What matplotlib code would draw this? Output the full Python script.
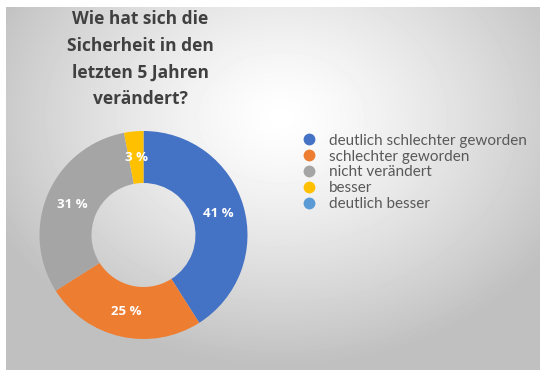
import numpy as np
import matplotlib.pyplot as plt
from matplotlib.lines import Line2D

labels = ["deutlich schlechter geworden", "schlechter geworden",
          "nicht verändert", "besser", "deutlich besser"]
shares = [41, 25, 31, 3, 0]
colors = ["#4472C4", "#ED7D31", "#A5A5A5", "#FFC000", "#5B9BD5"]
title = "Wie hat sich die\nSicherheit in den\nletzten 5 Jahren\nverändert?"

W, H = 548, 378
fig = plt.figure(figsize=(W / 100, H / 100), dpi=100)
fig.patch.set_facecolor("white")

# chart area with a soft radial gradient
bg = fig.add_axes([6 / W, 1 - 370 / H, 534 / W, 363 / H])
yy, xx = np.mgrid[0:363, 0:534]
d = np.sqrt(((xx - 275) / 320.0) ** 2 + ((yy - 110) / 250.0) ** 2)
shade = np.clip(1.0 - 0.25 * d ** 1.3, 0.75, 1.0)
bg.imshow(shade, cmap="gray", vmin=0, vmax=1, aspect="auto")
bg.set_axis_off()

fig.text(140 / W, 1 - 59 / H, title, ha="center", va="center",
         fontsize=12.5, fontweight="bold", color="#404040",
         family="Open Sans", linespacing=1.62)

# donut
cx, cy, r = 143.5, 235, 104
ax = fig.add_axes([(cx - r) / W, 1 - (cy + r) / H, 2 * r / W, 2 * r / H])
ax.pie(shares, colors=colors, startangle=90, counterclock=False,
       radius=1.0, wedgeprops=dict(width=0.5, edgecolor="none"))
ax.set_aspect("equal")
ax.set_xlim(-1, 1)
ax.set_ylim(-1, 1)

start = 90.0
total = sum(shares)
for val in shares:
    ang = start - val / total * 360 / 2
    start -= val / total * 360
    if val == 0:
        continue
    a = np.deg2rad(ang)
    ax.text(0.75 * np.cos(a), 0.75 * np.sin(a), f"{val} %", ha="center",
            va="center", color="white", fontsize=9.5, fontweight="bold",
            family="Open Sans")

handles = [Line2D([], [], ls="none", marker="o", markersize=8.5,
                  markerfacecolor=c, markeredgecolor="none") for c in colors]
fig.legend(handles, labels, loc="upper left",
           bbox_to_anchor=(288 / W, 1 - 120 / H), frameon=False,
           handlelength=1.0, handletextpad=0.8, labelspacing=0.12,
           prop=dict(family="Lato", size=11), labelcolor="#595959")

fig.savefig("out.png", dpi=100)
